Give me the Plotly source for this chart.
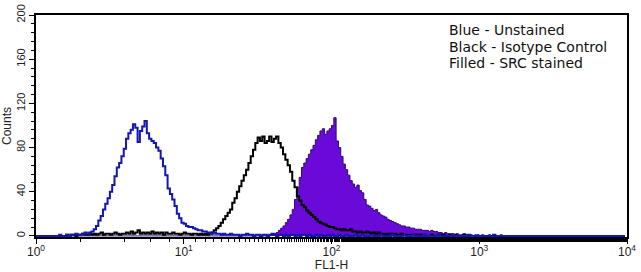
import plotly.graph_objects as go

# Histogram channels: 256 channels spanning 4 decades (64 channels per decade)
CHANNELS_PER_DECADE = 64

unstained_blue = [
    0,0,0,0,0,0,0,0,0,0,1,0,0,1,0,1,
    1,2,1,1,2,3,2,3,4,6,9,14,18,24,29,34,
    40,46,54,62,66,72,79,88,93,96,101,98,85,95,99,104,
    93,88,86,84,80,77,70,63,55,43,38,33,27,20,16,12,
    11,9,8,8,7,6,5,5,4,4,3,3,2,3,2,2,
    1,2,1,1,2,1,1,1,0,1,1,2,1,1,0,1,
    1,0,1,1,0,1,2,1,0,1,1,0,1,0,1,1,
    0,1,0,1,1,0,1,0,0,1,0,1,0,0,1,0,
    1,0,0,1,0,0,1,0,0,0,1,0,0,1,0,0,
    0,1,0,0,0,1,0,0,0,0,1,0,0,0,0,1,
    0,0,0,1,0,0,0,0,1,0,0,0,0,0,1,0,
    0,0,0,0,1,0,0,0,0,0,0,1,0,0,0,0,
    0,0,0,0,0,0,1,0,0,0,0,0,0,0,0,0,
    0,0,0,0,0,0,0,0,0,0,0,0,0,0,0,0,
    0,0,0,0,0,0,0,0,0,0,0,0,0,0,0,0,
    0,0,0,0,0,0,0,0,0,0,0,0,0,0,0,0,
]

isotype_black = [
    0,0,0,0,0,0,0,0,0,0,0,0,0,1,0,1,
    1,0,1,1,2,1,1,2,1,2,1,2,3,1,2,2,
    1,2,3,2,1,2,2,3,2,4,2,3,5,2,3,2,
    3,2,4,2,3,2,3,1,3,2,2,3,2,2,1,2,
    3,2,2,1,2,2,1,2,1,2,1,2,3,5,7,9,
    12,15,18,21,24,30,34,40,45,50,55,60,66,72,78,84,
    89,86,90,84,86,90,85,88,90,84,80,74,69,64,58,50,
    44,36,32,28,26,23,21,19,17,15,13,12,11,10,9,8,
    8,7,6,6,5,6,5,5,6,4,4,3,4,3,3,4,
    3,2,3,2,3,2,2,1,2,2,1,2,1,1,2,1,
    1,1,0,1,1,0,1,0,1,0,0,1,0,0,1,0,
    1,0,0,1,0,1,0,0,0,1,0,0,0,0,0,0,
    0,0,0,0,0,0,0,0,0,0,0,0,0,0,0,0,
    0,0,0,0,0,0,0,0,0,0,0,0,0,0,0,0,
    0,0,0,0,0,0,0,0,0,0,0,0,0,0,0,0,
    0,0,0,0,0,0,0,0,0,0,0,0,0,0,0,0,
]

src_filled = [
    0,0,0,0,0,0,0,0,0,0,0,0,0,0,0,0,
    0,0,0,0,0,0,0,0,0,0,0,0,0,0,0,0,
    0,0,0,0,0,0,0,0,0,0,0,0,0,0,0,0,
    0,0,0,0,0,0,0,0,0,0,0,0,0,0,0,0,
    0,0,0,0,0,0,0,0,0,0,0,0,0,0,0,0,
    0,0,0,0,0,0,0,0,0,0,0,0,0,0,0,0,
    0,0,0,0,0,1,1,2,3,5,7,9,12,15,19,24,
    33,44,53,62,66,70,74,78,82,87,91,95,97,92,95,97,
    100,107,86,80,72,65,60,55,50,47,44,46,41,39,33,28,
    27,25,23,24,21,19,18,17,15,14,13,12,11,10,9,9,
    8,8,7,7,6,6,6,5,5,5,4,5,4,4,3,3,
    2,3,2,2,2,1,2,1,1,2,1,1,1,0,1,1,
    0,1,0,0,1,0,0,0,0,1,0,0,0,0,0,0,
    0,0,0,0,0,0,0,0,0,0,0,0,0,0,0,0,
    0,0,0,0,0,0,0,0,0,0,0,0,0,0,0,0,
    0,0,0,0,0,0,0,0,0,0,0,0,0,0,0,0,
]

legend_lines = ["Blue - Unstained", "Black - Isotype Control", "Filled - SRC stained"]
y_tick_values = [0, 40, 80, 120, 160, 200]
x_tick_values = [1, 10, 100, 1000, 10000]
x_tick_labels = ["10<sup>0</sup>", "10<sup>1</sup>", "10<sup>2</sup>",
                 "10<sup>3</sup>", "10<sup>4</sup>"]

channels = list(range(len(unstained_blue)))
fl1 = [10 ** (c / CHANNELS_PER_DECADE) for c in channels]

fig = go.Figure()
fig.add_trace(go.Scatter(
    x=fl1, y=src_filled, mode="lines", line_shape="hv",
    line=dict(color="#2b0a6e", width=1),
    fill="tozeroy", fillcolor="#6a0ad8", showlegend=False))
fig.add_trace(go.Scatter(
    x=fl1, y=isotype_black, mode="lines", line_shape="hv",
    line=dict(color="#000000", width=2), showlegend=False))
fig.add_trace(go.Scatter(
    x=fl1, y=unstained_blue, mode="lines", line_shape="hv",
    line=dict(color="#1515b4", width=2), showlegend=False))

y0, y_top = 15, 237
for i, t in enumerate(legend_lines):
    ypix = 30 + i * 16.5
    fig.add_annotation(
        text=t, xref="paper", yref="paper",
        x=(447 - 36) / 591, y=1 - (ypix - y0) / (y_top - y0),
        xanchor="left", yanchor="middle", showarrow=False,
        font=dict(family="DejaVu Sans", size=14, color="#111111"))

tickfont = dict(family="Liberation Sans, Arial", size=12, color="#222222")
ytickfont = dict(family="Liberation Sans, Arial", size=11, color="#222222")
fig.update_xaxes(
    type="log", range=[0, 4], tickvals=x_tick_values, ticktext=x_tick_labels,
    showline=True, linecolor="black", linewidth=1.5, mirror=True,
    ticks="outside", ticklen=5, tickcolor="black", ticklabelstandoff=-2,
    minor=dict(ticks="outside", ticklen=3, tickcolor="black", showgrid=False),
    showgrid=False, zeroline=False, tickfont=tickfont, automargin=False,
    title=dict(text="FL1-H", font=tickfont, standoff=1),
    layer="below traces")
fig.update_yaxes(
    range=[-1, 200], tickvals=y_tick_values, tickangle=-90,
    showline=True, linecolor="black", linewidth=1.5, mirror=True,
    ticks="outside", ticklen=5, tickcolor="black",
    minor=dict(dtick=8, ticks="outside", ticklen=3, tickcolor="black", showgrid=False),
    showgrid=False, zeroline=False, tickfont=ytickfont, automargin=False,
    title=dict(text="Counts", font=tickfont, standoff=1),
    layer="below traces")

fig.update_layout(
    width=641, height=272,
    margin=dict(l=36, r=14, t=15, b=35),
    paper_bgcolor="white", plot_bgcolor="white")

fig.write_html("out.html")
